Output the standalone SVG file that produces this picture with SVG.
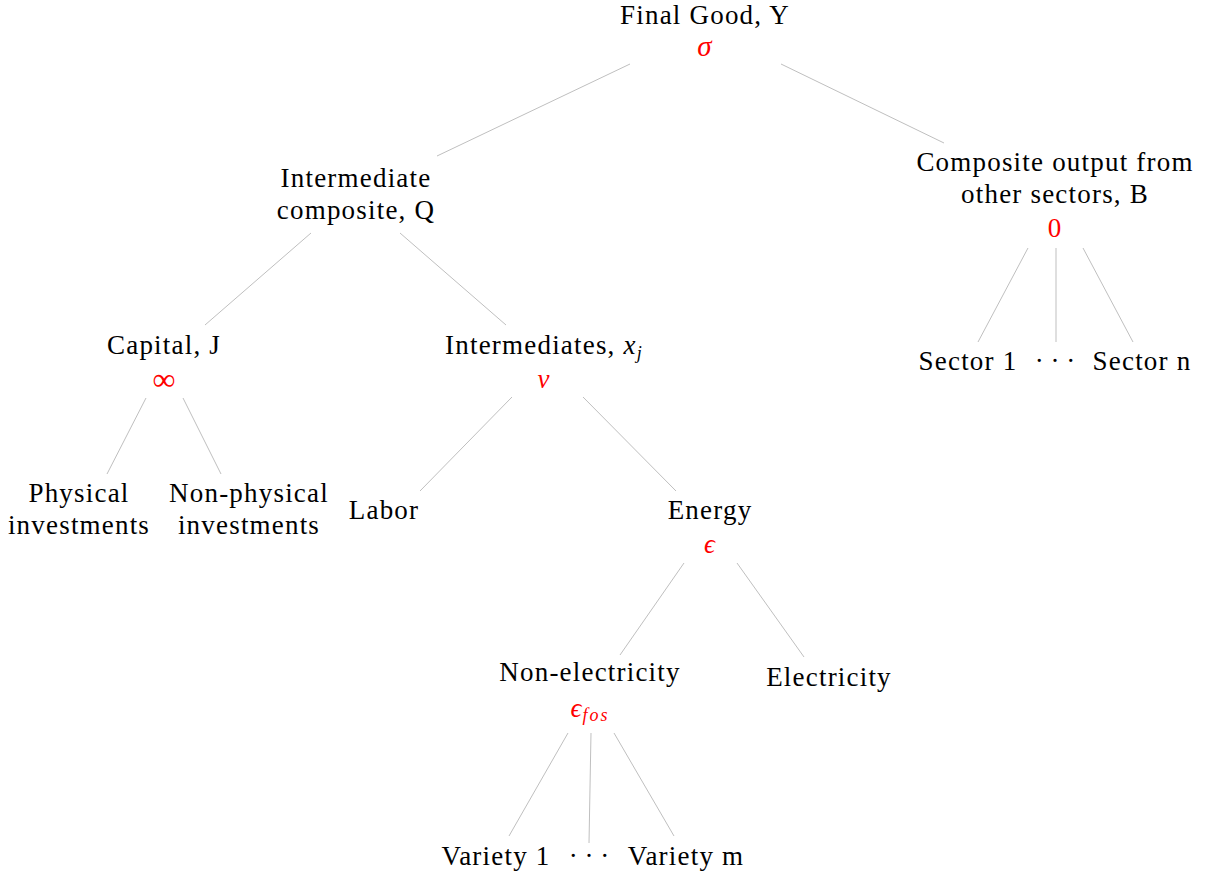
<svg xmlns="http://www.w3.org/2000/svg" width="1210" height="875" viewBox="0 0 1210 875">
<style>
text{font-family:"Liberation Serif","DejaVu Serif",serif;font-size:27px;letter-spacing:1.2px;fill:#000;text-anchor:middle}
.r{fill:#ff0000}
.i{font-style:italic}
.d{letter-spacing:0}
.c line{stroke:#bfbfbf;stroke-width:1}
</style>
<rect width="1210" height="875" fill="#fff"/>
<g class="c" id="connectors">
<line x1="630" y1="64" x2="437" y2="156"/>
<line x1="781" y1="64" x2="944" y2="143"/>
<line x1="311" y1="233" x2="205" y2="325"/>
<line x1="400" y1="233" x2="506" y2="325"/>
<line x1="146" y1="398" x2="107" y2="474"/>
<line x1="183" y1="398" x2="221" y2="474"/>
<line x1="512" y1="397" x2="420" y2="491"/>
<line x1="583" y1="397" x2="676" y2="491"/>
<line x1="684" y1="563" x2="620" y2="655"/>
<line x1="737" y1="563" x2="804" y2="657"/>
<line x1="1028" y1="248" x2="978" y2="342"/>
<line x1="1056" y1="248" x2="1056" y2="342"/>
<line x1="1083" y1="248" x2="1133" y2="342"/>
<line x1="568" y1="733" x2="509" y2="836"/>
<line x1="591" y1="733" x2="589" y2="843"/>
<line x1="614" y1="733" x2="674" y2="836"/>
</g>
<g id="final"><text x="705" y="24">Final Good, Y</text><text class="r i" x="705" y="56" style="font-size:29px">σ</text></g>
<g id="interm-comp"><text x="356" y="187">Intermediate</text><text x="356" y="219">composite, Q</text></g>
<g id="composite-b"><text x="1055" y="171">Composite output from</text><text x="1055" y="203">other sectors, B</text><text class="r" x="1055" y="237">0</text></g>
<g id="capital"><text x="164" y="390" class="r" style="font-size:32px;letter-spacing:0">∞</text><text x="164" y="354">Capital, J</text></g>
<g id="intermediates"><text x="544" y="354">Intermediates, <tspan class="i">x</tspan><tspan class="i" font-size="18" dy="5">j</tspan></text><text class="r i" x="544" y="388">v</text></g>
<g id="sector1"><text x="968" y="370">Sector 1</text></g>
<g id="sector-dots"><text class="d" x="1055" y="370">· · ·</text></g>
<g id="sectorn"><text x="1142" y="370">Sector n</text></g>
<g id="physical"><text x="79" y="502">Physical</text><text x="79" y="534">investments</text></g>
<g id="nonphysical"><text x="249" y="502">Non-physical</text><text x="249" y="534">investments</text></g>
<g id="labor"><text x="384" y="519">Labor</text></g>
<g id="energy"><text x="710" y="519">Energy</text><text class="r i" x="710" y="553">ϵ</text></g>
<g id="nonelec"><text x="590" y="681">Non-electricity</text><text class="r i" x="590" y="717">ϵ<tspan font-size="18" dy="4" letter-spacing="2">fos</tspan></text></g>
<g id="elec"><text x="829" y="686">Electricity</text></g>
<g id="variety1"><text x="496" y="865">Variety 1</text></g>
<g id="variety-dots"><text class="d" x="589" y="865">· · ·</text></g>
<g id="varietym"><text x="686" y="865">Variety m</text></g>
</svg>
